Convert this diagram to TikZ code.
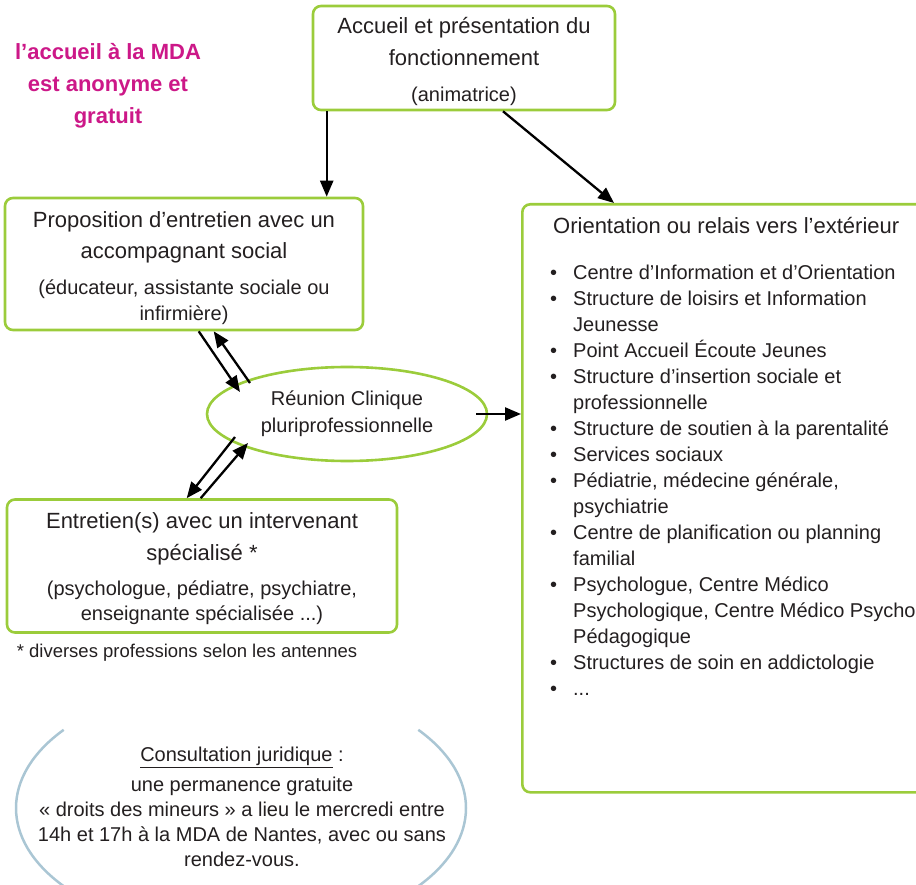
\documentclass[tikz,border=0pt]{standalone}
\usepackage{fontspec}
\setmainfont{Liberation Sans}
\usepackage{xcolor}
\usetikzlibrary{arrows.meta, positioning, shapes.geometric}
\definecolor{vertmda}{RGB}{155,204,59}
\definecolor{rosemda}{RGB}{204,24,136}
\definecolor{bleumda}{RGB}{170,198,212}
\definecolor{texte}{RGB}{35,31,32}
\newcommand{\puce}{\makebox[23pt][l]{•}}
\newcommand{\suite}{\hspace*{23pt}}

\begin{document}
\begin{tikzpicture}[x=1pt, y=-1pt,
        every node/.append style={text=texte},
        boite/.style={draw=vertmda, line width=2.6pt, rounded corners=8pt, align=center, inner sep=0pt},
        fleche/.style={-{Triangle[length=16pt,width=13pt]}, line width=2.3pt, black},
        grand/.style={font=\fontsize{22}{32}\selectfont},
        petit/.style={font=\fontsize{20}{26}\selectfont}]
    \useasboundingbox (0,0) rectangle (916,885);

    \node[text=rosemda, align=center, font=\bfseries\fontsize{22}{32}\selectfont] (note) at (108,86)
        {l’accueil à la MDA\\est anonyme et\\gratuit};

    \node[boite, grand, minimum width=302pt, minimum height=104pt] (accueil) at (464,58)
        {\rule{0pt}{23.5pt}Accueil et présentation du\\fonctionnement\\[4pt]{\fontsize{20}{26}\selectfont(animatrice)}};

    \node[boite, font=\fontsize{22}{31}\selectfont, minimum width=358pt, minimum height=132pt] (prop) at (184,264)
        {\rule{0pt}{24pt}Proposition d’entretien avec un\\accompagnant social\\[5pt]
         {\fontsize{20}{26}\selectfont(éducateur, assistante sociale ou}\\[-5pt]
         {\fontsize{20}{26}\selectfont infirmière)}};

    \node[ellipse, draw=vertmda, line width=2.6pt, inner sep=0pt, minimum width=280pt, minimum height=94pt,
        align=center, font=\fontsize{20}{27}\selectfont] (reunion) at (347,414)
        {Réunion Clinique\\pluriprofessionnelle};

    \node[boite, grand, minimum width=390pt, minimum height=133pt] (entretien) at (202,566)
        {\rule{0pt}{20.5pt}Entretien(s) avec un intervenant\\spécialisé *\\[3pt]
         {\fontsize{20}{26}\selectfont(psychologue, pédiatre, psychiatre,}\\[-7pt]
         {\fontsize{20}{26}\selectfont enseignante spécialisée ...)}};

    \node[font=\fontsize{18.5}{22}\selectfont] (renvoi) at (187,653) {* diverses professions selon les antennes};

    \node[boite, minimum width=430pt, minimum height=588pt, anchor=north west] (orient) at (521,203) {};
    \node[anchor=west, font=\fontsize{22}{26}\selectfont, inner sep=0pt] (titre) at ([shift={(32,23)}]orient.north west)
        {Orientation ou relais vers l’extérieur};
    \node[anchor=north west, align=left, petit, inner sep=0pt] (liste) at ([shift={(29,62)}]orient.north west)
        {\puce Centre d’Information et d’Orientation\\
         \puce Structure de loisirs et Information\\
         \suite Jeunesse\\
         \puce Point Accueil Écoute Jeunes\\
         \puce Structure d’insertion sociale et\\
         \suite professionnelle\\
         \puce Structure de soutien à la parentalité\\
         \puce Services sociaux\\
         \puce Pédiatrie, médecine générale,\\
         \suite psychiatrie\\
         \puce Centre de planification ou planning\\
         \suite familial\\
         \puce Psychologue, Centre Médico\\
         \suite Psychologique, Centre Médico Psycho\\
         \suite Pédagogique\\
         \puce Structures de soin en addictologie\\
         \puce ...};

    \coordinate (consult) at (241,808);
    \draw[bleumda, line width=2.5pt] (consult) ++(142:225 and 127) arc[start angle=142, end angle=218, x radius=225, y radius=127];
    \draw[bleumda, line width=2.5pt] (consult) ++(-38:225 and 127) arc[start angle=-38, end angle=38, x radius=225, y radius=127];
    \node[align=center, font=\fontsize{20}{25}\selectfont] (juridique) at (242,807)
        {\underline{Consultation juridique} :\\[5pt]
         une permanence gratuite\\
         « droits des mineurs » a lieu le mercredi entre\\
         14h et 17h à la MDA de Nantes, avec ou sans\\
         rendez-vous.};

    \draw[fleche] ([xshift=15pt]accueil.south west) -- ([xshift=15pt]accueil.south west |- prop.north);
    \draw[fleche] ([xshift=39pt]accueil.south) -- ([xshift=93pt]orient.north west);
    \draw[fleche] ([xshift=195pt]prop.south west) -- ([shift={(-107,-22)}]reunion.center);
    \draw[fleche] ([shift={(-97,-31)}]reunion.center) -- ([xshift=210pt]prop.south west);
    \draw[fleche] ([shift={(-112,23)}]reunion.center) -- ([xshift=181pt]entretien.north west);
    \draw[fleche] ([xshift=195pt]entretien.north west) -- ([shift={(-99,29)}]reunion.center);
    \draw[fleche] ([xshift=-12pt]reunion.east) -- (reunion.east -| orient.west);
\end{tikzpicture}
\end{document}
